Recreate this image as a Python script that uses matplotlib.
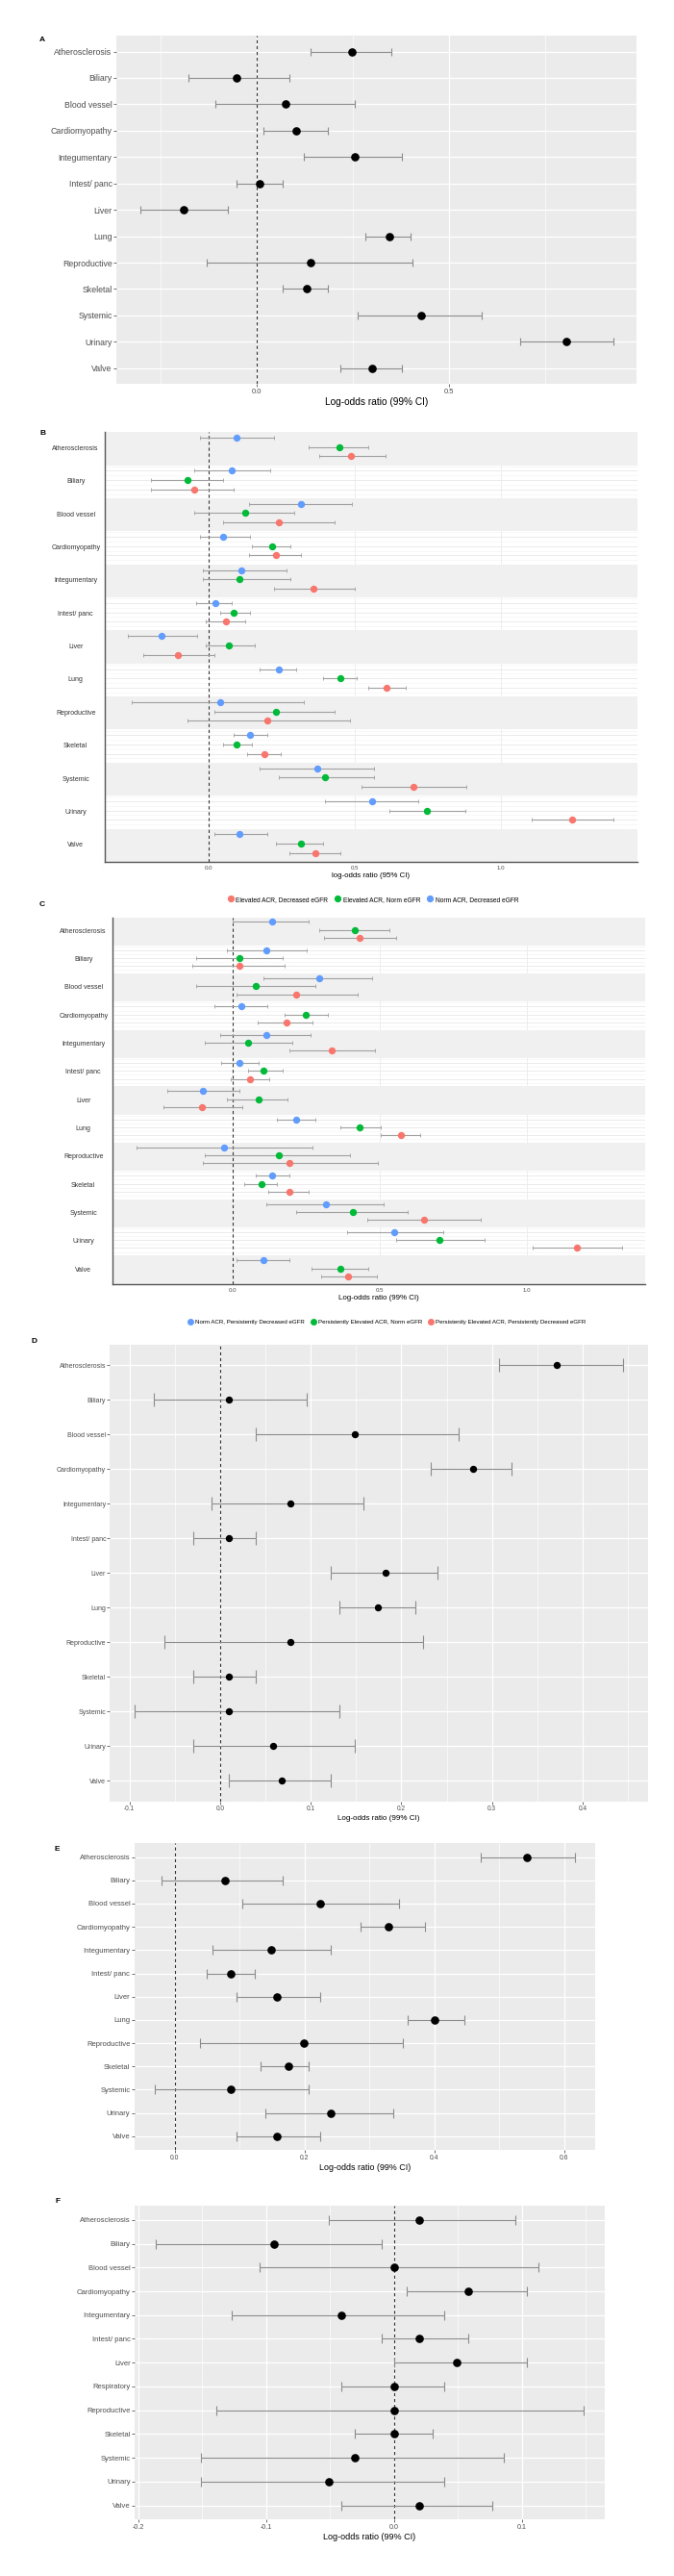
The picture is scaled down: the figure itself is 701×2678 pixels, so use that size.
import numpy as np
import matplotlib
matplotlib.use('Agg')
import matplotlib.pyplot as plt
from matplotlib.lines import Line2D
from matplotlib.transforms import blended_transform_factory

plt.rcParams['font.family'] = ['Liberation Sans', 'DejaVu Sans']
plt.rcParams['axes.unicode_minus'] = False

W, H = 701, 2678

ORGANS = ['Atherosclerosis', 'Biliary', 'Blood vessel', 'Cardiomyopathy', 'Integumentary',
          'Intest/ panc', 'Liver', 'Lung', 'Reproductive', 'Skeletal', 'Systemic',
          'Urinary', 'Valve']
ORGANS_F = ['Atherosclerosis', 'Biliary', 'Blood vessel', 'Cardiomyopathy', 'Integumentary',
            'Intest/ panc', 'Liver', 'Respiratory', 'Reproductive', 'Skeletal', 'Systemic',
            'Urinary', 'Valve']

# panel A
A_EST = [0.247, -0.052, 0.076, 0.104, 0.256, 0.008, -0.189, 0.344, 0.140, 0.131, 0.427, 0.805, 0.300]
A_LO = [0.140, -0.176, -0.108, 0.019, 0.123, -0.052, -0.302, 0.283, -0.129, 0.067, 0.262, 0.684, 0.217]
A_HI = [0.350, 0.086, 0.256, 0.184, 0.378, 0.067, -0.074, 0.400, 0.406, 0.184, 0.584, 0.927, 0.378]

# panel B (95% CI)
B_BLUE_EST = [0.096, 0.078, 0.315, 0.050, 0.113, 0.022, -0.162, 0.240, 0.040, 0.140, 0.371, 0.560, 0.104]
B_BLUE_LO = [-0.029, -0.049, 0.138, -0.029, -0.021, -0.043, -0.275, 0.175, -0.263, 0.087, 0.174, 0.399, 0.021]
B_BLUE_HI = [0.224, 0.209, 0.491, 0.140, 0.265, 0.078, -0.041, 0.300, 0.324, 0.200, 0.566, 0.718, 0.200]
B_GREEN_EST = [0.446, -0.072, 0.124, 0.216, 0.104, 0.087, 0.069, 0.451, 0.231, 0.096, 0.399, 0.746, 0.315]
B_GREEN_LO = [0.343, -0.199, -0.049, 0.149, -0.021, 0.040, -0.009, 0.391, 0.021, 0.050, 0.240, 0.619, 0.229]
B_GREEN_HI = [0.547, 0.050, 0.294, 0.279, 0.279, 0.140, 0.159, 0.507, 0.432, 0.149, 0.566, 0.879, 0.393]
B_RED_EST = [0.488, -0.050, 0.240, 0.231, 0.359, 0.060, -0.104, 0.610, 0.200, 0.191, 0.701, 1.244, 0.365]
B_RED_LO = [0.379, -0.199, 0.050, 0.138, 0.224, -0.009, -0.224, 0.546, -0.072, 0.132, 0.522, 1.106, 0.276]
B_RED_HI = [0.604, 0.087, 0.432, 0.315, 0.501, 0.124, 0.021, 0.675, 0.482, 0.247, 0.882, 1.385, 0.451]
B_LEGEND = ['Elevated ACR, Decreased eGFR', 'Elevated ACR, Norm eGFR', 'Norm ACR, Decreased eGFR']

# panel C (99% CI)
C_BLUE_EST = [0.132, 0.114, 0.292, 0.029, 0.114, 0.020, -0.104, 0.215, -0.031, 0.132, 0.316, 0.547, 0.104]
C_BLUE_LO = [0.000, -0.020, 0.104, -0.063, -0.044, -0.042, -0.224, 0.148, -0.327, 0.076, 0.114, 0.386, 0.010]
C_BLUE_HI = [0.256, 0.250, 0.471, 0.115, 0.262, 0.086, 0.020, 0.279, 0.270, 0.193, 0.513, 0.713, 0.193]
C_GREEN_EST = [0.414, 0.020, 0.077, 0.247, 0.050, 0.104, 0.086, 0.431, 0.156, 0.095, 0.406, 0.703, 0.364]
C_GREEN_LO = [0.292, -0.127, -0.127, 0.174, -0.095, 0.050, -0.020, 0.364, -0.095, 0.038, 0.215, 0.553, 0.268]
C_GREEN_HI = [0.532, 0.168, 0.279, 0.323, 0.200, 0.168, 0.184, 0.501, 0.399, 0.148, 0.592, 0.854, 0.458]
C_RED_EST = [0.431, 0.020, 0.215, 0.183, 0.336, 0.058, -0.105, 0.570, 0.192, 0.192, 0.648, 1.170, 0.392]
C_RED_LO = [0.308, -0.140, 0.010, 0.083, 0.190, -0.009, -0.237, 0.501, -0.104, 0.121, 0.456, 1.018, 0.300]
C_RED_HI = [0.554, 0.175, 0.425, 0.270, 0.482, 0.123, 0.031, 0.637, 0.491, 0.256, 0.842, 1.322, 0.490]
C_LEGEND = ['Norm ACR, Persistently Decreased eGFR', 'Persistently Elevated ACR, Norm eGFR',
            'Persistently Elevated ACR, Persistently Decreased eGFR']

# panel D
D_EST = [0.372, 0.010, 0.149, 0.279, 0.077, 0.010, 0.183, 0.174, 0.077, 0.010, 0.010, 0.058, 0.068]
D_LO = [0.308, -0.073, 0.039, 0.232, -0.010, -0.030, 0.122, 0.132, -0.062, -0.030, -0.094, -0.030, 0.010]
D_HI = [0.445, 0.096, 0.263, 0.322, 0.158, 0.039, 0.240, 0.216, 0.224, 0.039, 0.132, 0.149, 0.122]

# panel E
E_EST = [0.542, 0.077, 0.224, 0.329, 0.149, 0.087, 0.157, 0.400, 0.199, 0.175, 0.087, 0.240, 0.157]
E_LO = [0.471, -0.020, 0.105, 0.286, 0.059, 0.050, 0.096, 0.359, 0.039, 0.132, -0.030, 0.140, 0.096]
E_HI = [0.617, 0.167, 0.345, 0.386, 0.240, 0.123, 0.224, 0.446, 0.351, 0.207, 0.207, 0.337, 0.224]

# panel F
F_EST = [0.020, -0.094, 0.000, 0.058, -0.041, 0.020, 0.049, 0.000, 0.000, 0.000, -0.031, -0.051, 0.020]
F_LO = [-0.051, -0.186, -0.105, 0.010, -0.127, -0.010, 0.000, -0.041, -0.139, -0.031, -0.151, -0.151, -0.041]
F_HI = [0.095, -0.010, 0.113, 0.104, 0.039, 0.058, 0.104, 0.039, 0.148, 0.030, 0.086, 0.039, 0.077]

RED, GREEN, BLUE = '#F8766D', '#00BA38', '#619CFF'
TXT = '#4D4D4D'


def box(x0, x1, y0, y1):
    return [x0 / W, 1 - y1 / H, (x1 - x0) / W, (y1 - y0) / H]


def panel_label(fig, x, y, s):
    fig.text(x / W, 1 - y / H, s, fontsize=6, fontweight='bold', ha='center', va='center')


def forest(ax, est, lo, hi, labels, xlim, major, minor, ms, cap, fs_y, fs_x, fs_lab):
    est, lo, hi = map(np.asarray, (est, lo, hi))
    y = np.arange(len(labels))
    ax.set_facecolor('#EBEBEB')
    ax.errorbar(est, y, xerr=[est - lo, hi - est], fmt='none', ecolor='#8C8C8C',
                elinewidth=0.8, capsize=cap, capthick=0.8, zorder=3)
    ax.plot(est, y, 'o', color='black', ms=ms, zorder=4)
    ax.axvline(0, color='#333333', ls=(0, (3, 2.5)), lw=0.8, zorder=2.5)
    ax.set_xlim(*xlim)
    ax.set_ylim(len(labels) - 0.4, -0.6)
    ax.set_xticks(major)
    ax.set_xticks(minor, minor=True)
    ax.set_xticklabels(['%.1f' % v for v in major])
    ax.set_yticks(y)
    ax.set_yticklabels(labels)
    ax.grid(which='major', color='white', lw=0.9)
    ax.grid(which='minor', axis='x', color='white', lw=0.45)
    ax.set_axisbelow(True)
    for s in ax.spines.values():
        s.set_visible(False)
    ax.tick_params(axis='y', labelsize=fs_y, colors='#333333', labelcolor=TXT, length=2, width=0.5, pad=1)
    ax.tick_params(axis='x', labelsize=fs_x, colors='#333333', labelcolor=TXT, length=2, width=0.5, pad=1.5)
    ax.tick_params(axis='x', which='minor', length=0)
    ax.set_xlabel('Log-odds ratio (99% CI)', fontsize=fs_lab, labelpad=1.5)


def grouped(fig, ax, series, labels, xlim, xlab, label_x):
    n = len(labels)
    offs = [0.17, 0.45, 0.73]
    ax.set_facecolor('white')
    for i in range(n):
        for f in offs:
            ax.axhline(i + f, color='#E8E8E8', lw=0.6, zorder=0)
        for f in [0.03, 0.31, 0.59, 0.87]:
            ax.axhline(i + f, color='#F2F2F2', lw=0.4, zorder=0)
        if i % 2 == 0:
            ax.axhspan(i, i + 1, color='#F0F0F0', lw=0, zorder=1)
    for xv in [0.5, 1.0]:
        ax.axvline(xv, color='#EBEBEB', lw=0.6, zorder=0.5)
    ax.axvline(0, color='#333333', ls=(0, (3, 2.5)), lw=0.8, zorder=2.5)
    for k, (est, lo, hi, col) in enumerate(series):
        est, lo, hi = map(np.asarray, (est, lo, hi))
        y = np.arange(n) + offs[k]
        ax.errorbar(est, y, xerr=[est - lo, hi - est], fmt='none', ecolor='#A0A0A0',
                    elinewidth=0.8, capsize=1.3, capthick=0.6, zorder=3)
        ax.plot(est, y, 'o', color=col, ms=4.3, zorder=4)
    ax.set_xlim(*xlim)
    ax.set_ylim(n, 0)
    ax.set_xticks([0.0, 0.5, 1.0])
    ax.set_xticklabels(['0.0', '0.5', '1.0'])
    ax.set_yticks([])
    for s in ['top', 'right']:
        ax.spines[s].set_visible(False)
    for s in ['left', 'bottom']:
        ax.spines[s].set_color('#555555')
        ax.spines[s].set_linewidth(1.0)
    ax.tick_params(axis='x', labelsize=4.4, labelcolor=TXT, length=0, pad=3)
    ax.set_xlabel(xlab, fontsize=5.7, labelpad=1.5)
    tr = blended_transform_factory(fig.transFigure, ax.transData)
    for i, lab in enumerate(labels):
        ax.text(label_x / W, i + 0.5, lab, transform=tr, ha='center', va='center',
                fontsize=5.0, color='#333333')


fig = plt.figure(figsize=(W / 100, H / 100), dpi=100)

# A
axA = fig.add_axes(box(120.7, 662, 37.1, 399.2))
forest(axA, A_EST, A_LO, A_HI, ORGANS, (-0.365, 0.987), [0.0, 0.5], [-0.25, 0.25, 0.75],
       5.2, 2.6, 6.3, 5.5, 7.3)
panel_label(fig, 43.8, 41.1, 'A')

# B
axB = fig.add_axes(box(109.1, 663, 449.3, 895.9))
grouped(fig, axB, [(B_BLUE_EST, B_BLUE_LO, B_BLUE_HI, BLUE),
                   (B_GREEN_EST, B_GREEN_LO, B_GREEN_HI, GREEN),
                   (B_RED_EST, B_RED_LO, B_RED_HI, RED)],
        ORGANS, (-0.355, 1.467), 'log-odds ratio (95% CI)', 78.7)
panel_label(fig, 44, 451, 'B')
hB = [Line2D([], [], marker='o', ls='', color=c, ms=4.2) for c in (RED, GREEN, BLUE)]
fig.legend(hB, B_LEGEND, loc='center', bbox_to_anchor=(388 / W, 1 - 935.2 / H), ncol=3,
           frameon=False, fontsize=4.8, handletextpad=0.3, columnspacing=1.0,
           handlelength=1.0, borderpad=0)

# C
axC = fig.add_axes(box(117.1, 670.6, 953.5, 1334.7))
grouped(fig, axC, [(C_BLUE_EST, C_BLUE_LO, C_BLUE_HI, BLUE),
                   (C_GREEN_EST, C_GREEN_LO, C_GREEN_HI, GREEN),
                   (C_RED_EST, C_RED_LO, C_RED_HI, RED)],
        ORGANS, (-0.41, 1.40), 'Log-odds ratio (99% CI)', 86.7)
panel_label(fig, 43.8, 940.6, 'C')
hC = [Line2D([], [], marker='o', ls='', color=c, ms=4.0) for c in (BLUE, GREEN, RED)]
fig.legend(hC, C_LEGEND, loc='center', bbox_to_anchor=(402 / W, 1 - 1374.7 / H), ncol=3,
           frameon=False, fontsize=4.4, handletextpad=0.3, columnspacing=1.0,
           handlelength=1.0, borderpad=0)

# D
axD = fig.add_axes(box(114.4, 673.7, 1397.5, 1872.6))
forest(axD, D_EST, D_LO, D_HI, ORGANS, (-0.1216, 0.472),
       [-0.1, 0.0, 0.1, 0.2, 0.3, 0.4], [-0.05, 0.05, 0.15, 0.25, 0.35, 0.45],
       4.3, 5.0, 5.0, 4.7, 5.8)
panel_label(fig, 35.3, 1394.8, 'D')

# E
axE = fig.add_axes(box(139.5, 619.1, 1916, 2235.4))
forest(axE, E_EST, E_LO, E_HI, ORGANS, (-0.0622, 0.6476), [0.0, 0.2, 0.4, 0.6], [0.1, 0.3, 0.5],
       5.2, 3.9, 5.5, 4.9, 6.4)
panel_label(fig, 59.5, 1922.3, 'E')

# F
axF = fig.add_axes(box(139.9, 628.5, 2293, 2619.4))
forest(axF, F_EST, F_LO, F_HI, ORGANS_F, (-0.2029, 0.1643), [-0.2, -0.1, 0.0, 0.1],
       [-0.15, -0.05, 0.05, 0.15], 5.2, 3.9, 5.5, 5.1, 6.5)
panel_label(fig, 59.5, 2288.6, 'F')

fig.savefig('out.png', dpi=100, facecolor='white')
